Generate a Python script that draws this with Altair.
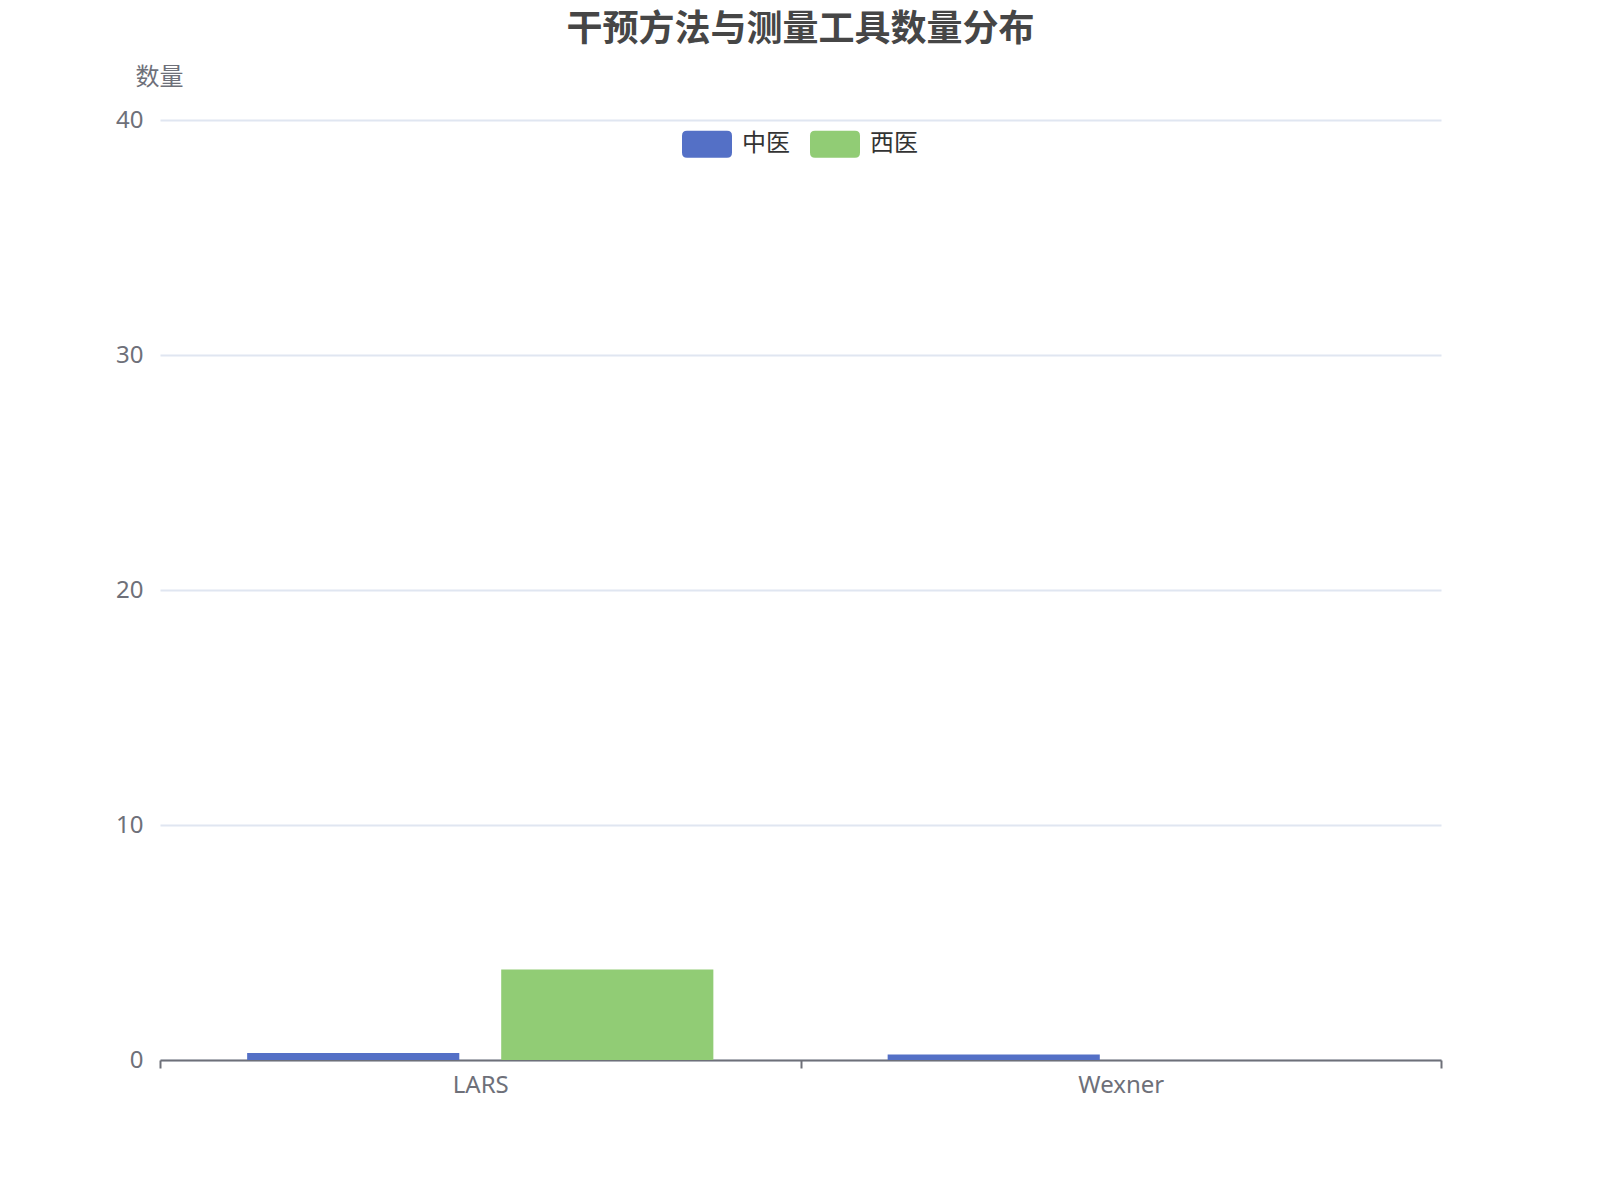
import altair as alt
import pandas as pd

categories = ["LARS", "Wexner"]
series_names = ["中医", "西医"]
tcm_values = [0.3, 0.23]
wm_values = [3.85, 0.0]
colors = ["#5470c6", "#91cc75"]
y_ticks = [0, 10, 20, 30, 40]

rows = []
for i, c in enumerate(categories):
    rows.append({"工具": c, "类别": series_names[0], "数量": tcm_values[i]})
    rows.append({"工具": c, "类别": series_names[1], "数量": wm_values[i]})
df = pd.DataFrame(rows)

FONT = "Noto Sans, Noto Sans CJK SC, sans-serif"
rounded = ("M-0.8,-0.54 L0.8,-0.54 Q1,-0.54 1,-0.34 L1,0.34 Q1,0.54 0.8,0.54 "
           "L-0.8,0.54 Q-1,0.54 -1,0.34 L-1,-0.34 Q-1,-0.54 -0.8,-0.54 Z")

chart = alt.Chart(df).mark_bar().encode(
    x=alt.X("工具:N", sort=categories,
            scale=alt.Scale(paddingInner=0, paddingOuter=0),
            axis=alt.Axis(title=None, labelAngle=0, tickBand="extent",
                          domainColor="#6e7079", domainWidth=2,
                          tickColor="#6e7079", tickWidth=2, tickSize=8,
                          labelColor="#6e7079", labelFontSize=24,
                          labelPadding=5, labelFont=FONT, grid=False)),
    xOffset=alt.XOffset("类别:N", sort=series_names,
                        scale=alt.Scale(paddingInner=0.165, paddingOuter=0.343)),
    y=alt.Y("数量:Q", scale=alt.Scale(domain=[0, 40], nice=False),
            axis=alt.Axis(values=y_ticks, title="数量", titleAngle=0,
                          titleX=-1, titleY=-43, titleAlign="center",
                          titleBaseline="middle", titleFontSize=24,
                          titleFontWeight="normal", titleColor="#6e7079",
                          titleFont=FONT,
                          domain=False, ticks=False, labelPadding=17,
                          labelFontSize=24, labelColor="#6e7079",
                          labelFont=FONT,
                          gridColor="#e0e6f1", gridWidth=2)),
    color=alt.Color("类别:N", sort=series_names,
                    scale=alt.Scale(domain=series_names, range=colors),
                    legend=alt.Legend(title=None, orient="none",
                                      direction="horizontal",
                                      legendX=522, legendY=-1,
                                      symbolType=rounded, symbolSize=2500,
                                      symbolStrokeWidth=0, symbolOpacity=1,
                                      labelFontSize=24, labelColor="#333333",
                                      labelFont=FONT, labelOffset=10,
                                      columnPadding=20, padding=0)),
).properties(
    width=1281,
    height=940,
    title=alt.Title("干预方法与测量工具数量分布", fontSize=36, fontWeight="bold",
                    color="#464646", font=FONT, anchor="middle", offset=16),
    autosize=alt.AutoSizeParams(type="none"),
    padding={"left": 152, "top": 112, "right": 150, "bottom": 100},
).configure_view(stroke=None)

chart.save("out.html", embed_options={"renderer": "svg", "actions": False})
